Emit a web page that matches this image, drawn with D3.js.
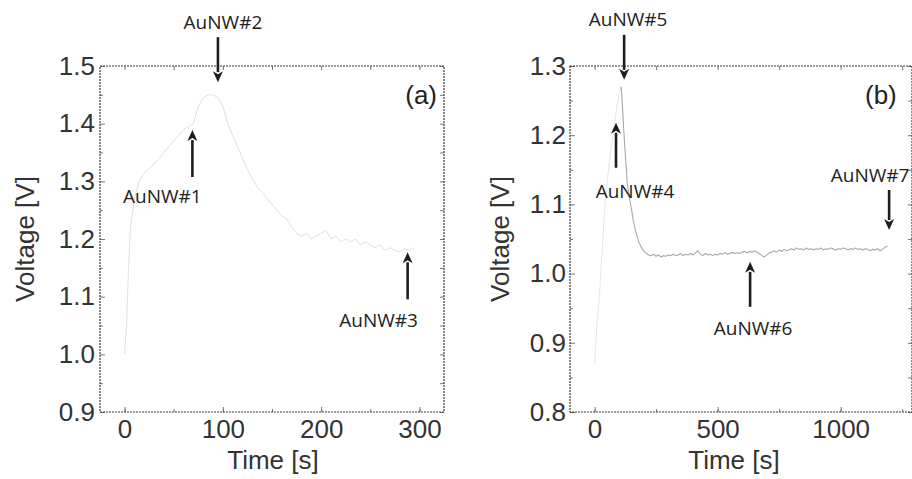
<!DOCTYPE html>
<html><head><meta charset="utf-8">
<script src="https://cdn.jsdelivr.net/npm/d3@7"></script>
<style>
html,body{margin:0;padding:0;background:#fff;}
svg{display:block;}
</style></head><body>
<svg id="chart" width="912" height="479"></svg>
<script>
// ---- Panel (a): voltage trace while AuNW#1..#3 are added ----
const timeA = [0,2,4,6,10,15,20,25,30,35,40,45,50,55,60,65,70,75,80,85,90,95,100,105,110,115,120,125,130,135,140,145,150,155,160,165,170,175,180,185,190,195,200,205,210,215,220,225,230,235,240,245,250,255,260,265,270,275,280,285,290,295];
const voltA = [1.00,1.05,1.15,1.22,1.27,1.30,1.315,1.322,1.33,1.34,1.35,1.36,1.37,1.38,1.39,1.395,1.40,1.43,1.445,1.45,1.45,1.445,1.43,1.40,1.38,1.36,1.34,1.32,1.305,1.29,1.28,1.27,1.26,1.25,1.24,1.235,1.22,1.21,1.205,1.21,1.20,1.205,1.21,1.215,1.20,1.205,1.195,1.20,1.195,1.20,1.19,1.195,1.19,1.185,1.19,1.18,1.185,1.18,1.178,1.183,1.18,1.185];

// ---- Panel (b): voltage trace while AuNW#4..#7 are added ----
// charging ramp up to the peak
const timeBRise = [0,5,10,20,30,40,50,60,70,80,90,100,108];
const voltBRise = [0.87,0.90,0.93,0.97,1.03,1.09,1.13,1.16,1.19,1.215,1.24,1.26,1.27];
// decay after the peak and the long plateau
const timeB = [108,112,118,125,133,141,149,158,168,180,195,210,220,230,240,250,260,270,280,290,300,310,320,330,340,350,360,370,380,390,400,410,420,430,440,450,460,470,480,490,500,510,520,530,540,550,560,570,580,590,600,610,620,630,640,650,660,670,680,690,700,710,720,730,740,750,760,770,780,790,800,810,820,830,840,850,860,870,880,890,900,910,920,930,940,950,960,970,980,990,1000,1010,1020,1030,1040,1050,1060,1070,1080,1090,1100,1110,1120,1130,1140,1150,1160,1170,1180,1190];
const voltB = [1.27,1.25,1.21,1.17,1.13,1.11,1.095,1.075,1.06,1.045,1.035,1.029,1.027,1.026,1.028,1.025,1.027,1.024,1.026,1.025,1.027,1.026,1.028,1.026,1.027,1.029,1.026,1.028,1.027,1.029,1.027,1.030,1.033,1.028,1.026,1.029,1.027,1.028,1.026,1.028,1.027,1.029,1.028,1.030,1.028,1.029,1.031,1.029,1.030,1.029,1.031,1.032,1.030,1.032,1.031,1.033,1.031,1.029,1.026,1.024,1.027,1.030,1.031,1.033,1.031,1.034,1.032,1.035,1.033,1.034,1.036,1.034,1.037,1.035,1.036,1.034,1.037,1.035,1.036,1.034,1.036,1.035,1.037,1.034,1.036,1.035,1.037,1.036,1.034,1.036,1.035,1.037,1.036,1.034,1.036,1.035,1.037,1.035,1.036,1.034,1.036,1.035,1.033,1.035,1.034,1.036,1.033,1.035,1.038,1.040];

// ---- tick labels ----
const xTicksA = [0, 100, 200, 300];
const yTicksA = [0.9, 1.0, 1.1, 1.2, 1.3, 1.4, 1.5];
const xTicksB = [0, 500, 1000];
const yTicksB = [0.8, 0.9, 1.0, 1.1, 1.2, 1.3];

// ---- nanowire markers: where each arrow points (time, voltage) ----
const markersA = [
  {label: "AuNW#1", t: 69,  v: 1.389, dir: "up"},
  {label: "AuNW#2", t: 95,  v: 1.472, dir: "down"},
  {label: "AuNW#3", t: 288, v: 1.177, dir: "up"}
];
const markersB = [
  {label: "AuNW#4", t: 87,   v: 1.218, dir: "up"},
  {label: "AuNW#5", t: 120,  v: 1.280, dir: "down"},
  {label: "AuNW#6", t: 632,  v: 1.017, dir: "up"},
  {label: "AuNW#7", t: 1197, v: 1.063, dir: "down"}
];

// label placement next to each arrow (px)
const markerLayout = {
  "AuNW#1": {len: 47, dx: -30, gap: 26},
  "AuNW#2": {len: 45, dx: 5,   gap: 8},
  "AuNW#3": {len: 47, dx: -29, gap: 28},
  "AuNW#4": {len: 45, dx: 19,  gap: 30},
  "AuNW#5": {len: 45, dx: 4,   gap: 9},
  "AuNW#6": {len: 45, dx: 3,   gap: 28},
  "AuNW#7": {len: 40, dx: -19, gap: 8}
};

const svg = d3.select("#chart");
const TOP = 66, BOTTOM = 412;
const AXIS_FONT = "Arial, 'Liberation Sans', sans-serif";
const NOTE_FONT = "'Open Sans', 'DejaVu Sans', sans-serif";

const panels = [
  {
    left: 100, right: 444,
    xDomain: [-25, 325], yDomain: [0.9, 1.5],
    xTicks: xTicksA, yTicks: yTicksA,
    xMinor: d3.range(0, 301, 50), yMinor: d3.range(0.95, 1.5, 0.1),
    series: [{t: timeA, v: voltA, color: "#e0e0e0", width: 1}],
    markers: markersA,
    yTitleX: 34, titleX: 273, tag: "(a)", tagX: 437, tagAnchor: "end", labelPad: 5
  },
  {
    left: 570, right: 912,
    xDomain: [-100, 1290], yDomain: [0.8, 1.3],
    xTicks: xTicksB, yTicks: yTicksB,
    xMinor: d3.range(0, 1291, 250), yMinor: d3.range(0.85, 1.3, 0.1),
    series: [
      {t: timeBRise, v: voltBRise, color: "#e6e6e6", width: 1},
      {t: timeB, v: voltB, color: "#a8a8a8", width: 1.1}
    ],
    markers: markersB,
    yTitleX: 509, titleX: 734, tag: "(b)", tagX: 865, tagAnchor: "start", labelPad: 4
  }
];

panels.forEach(p => {
  const x = d3.scaleLinear().domain(p.xDomain).range([p.left, p.right]);
  const y = d3.scaleLinear().domain(p.yDomain).range([BOTTOM, TOP]);
  const g = svg.append("g");

  // data traces
  const line = d3.line().x(d => x(d[0])).y(d => y(d[1]));
  p.series.forEach(s => {
    g.append("path")
      .datum(d3.zip(s.t, s.v))
      .attr("fill", "none")
      .attr("stroke", s.color)
      .attr("stroke-width", s.width)
      .attr("stroke-linejoin", "round")
      .attr("d", line);
  });

  const styleTicks = sel => {
    sel.select(".domain").remove();
    sel.selectAll(".tick line").attr("stroke", "#777").attr("stroke-width", 1);
  };

  // major axes with labels
  const bottom = g.append("g").attr("transform", `translate(0,${BOTTOM})`)
    .call(d3.axisBottom(x).tickValues(p.xTicks).tickSize(-5).tickPadding(8).tickFormat(d3.format("d")));
  const leftAx = g.append("g").attr("transform", `translate(${p.left},0)`)
    .call(d3.axisLeft(y).tickValues(p.yTicks).tickSize(-5).tickPadding(p.labelPad).tickFormat(d3.format(".1f")));
  [bottom, leftAx].forEach(a => {
    styleTicks(a);
    a.selectAll(".tick text")
      .attr("fill", "#333")
      .style("font-family", AXIS_FONT)
      .style("font-size", "26px");
  });

  // mirrored ticks on top and right, plus minor ticks all round
  const mirror = [
    g.append("g").attr("transform", `translate(0,${TOP})`)
      .call(d3.axisTop(x).tickValues(p.xMinor).tickSize(-4).tickFormat("")),
    g.append("g").attr("transform", `translate(${p.right},0)`)
      .call(d3.axisRight(y).tickValues(p.yTicks.concat(p.yMinor)).tickSize(-4).tickFormat("")),
    g.append("g").attr("transform", `translate(0,${BOTTOM})`)
      .call(d3.axisBottom(x).tickValues(p.xMinor).tickSize(-3).tickFormat("")),
    g.append("g").attr("transform", `translate(${p.left},0)`)
      .call(d3.axisLeft(y).tickValues(p.yMinor).tickSize(-3).tickFormat(""))
  ];
  mirror.forEach(styleTicks);

  // plot frame
  g.append("rect")
    .attr("x", p.left).attr("y", TOP)
    .attr("width", p.right - p.left).attr("height", BOTTOM - TOP)
    .attr("fill", "none")
    .attr("stroke", "#3a3a3a")
    .attr("stroke-width", 1.2)
    .attr("stroke-dasharray", "2,1");

  // axis titles
  g.append("text")
    .attr("x", p.titleX)
    .attr("y", 469)
    .attr("text-anchor", "middle")
    .attr("fill", "#333")
    .style("font-family", AXIS_FONT).style("font-size", "26px")
    .text("Time [s]");
  g.append("text")
    .attr("transform", `translate(${p.yTitleX},${(TOP + BOTTOM) / 2}) rotate(-90)`)
    .attr("text-anchor", "middle")
    .attr("fill", "#333")
    .style("font-family", AXIS_FONT).style("font-size", "26px")
    .text("Voltage [V]");

  // panel tag
  g.append("text")
    .attr("x", p.tagX).attr("y", 104)
    .attr("text-anchor", p.tagAnchor)
    .attr("fill", "#222")
    .style("font-family", AXIS_FONT).style("font-size", "26px")
    .text(p.tag);

  // arrows marking each nanowire
  p.markers.forEach(m => {
    const L = markerLayout[m.label];
    const tx = x(m.t), ty = y(m.v);
    const s = m.dir === "up" ? 1 : -1;      // tail is below the tip for "up"
    const tail = ty + s * L.len;
    const head = 11, half = 5;
    g.append("line")
      .attr("x1", tx).attr("y1", tail)
      .attr("x2", tx).attr("y2", ty + s * (head - 1))
      .attr("stroke", "#1e1e1e").attr("stroke-width", 2.6);
    g.append("path")
      .attr("d", `M${tx},${ty} L${tx - half},${ty + s * head} L${tx},${ty + s * (head - 3)} L${tx + half},${ty + s * head} Z`)
      .attr("fill", "#1e1e1e");
    const baseY = m.dir === "up" ? tail + L.gap : tail - L.gap;
    g.append("text")
      .attr("x", tx + L.dx).attr("y", baseY)
      .attr("text-anchor", "middle")
      .attr("fill", "#222")
      .style("font-family", NOTE_FONT).style("font-size", "19px")
      .text(m.label);
  });
});
</script>
</body></html>
